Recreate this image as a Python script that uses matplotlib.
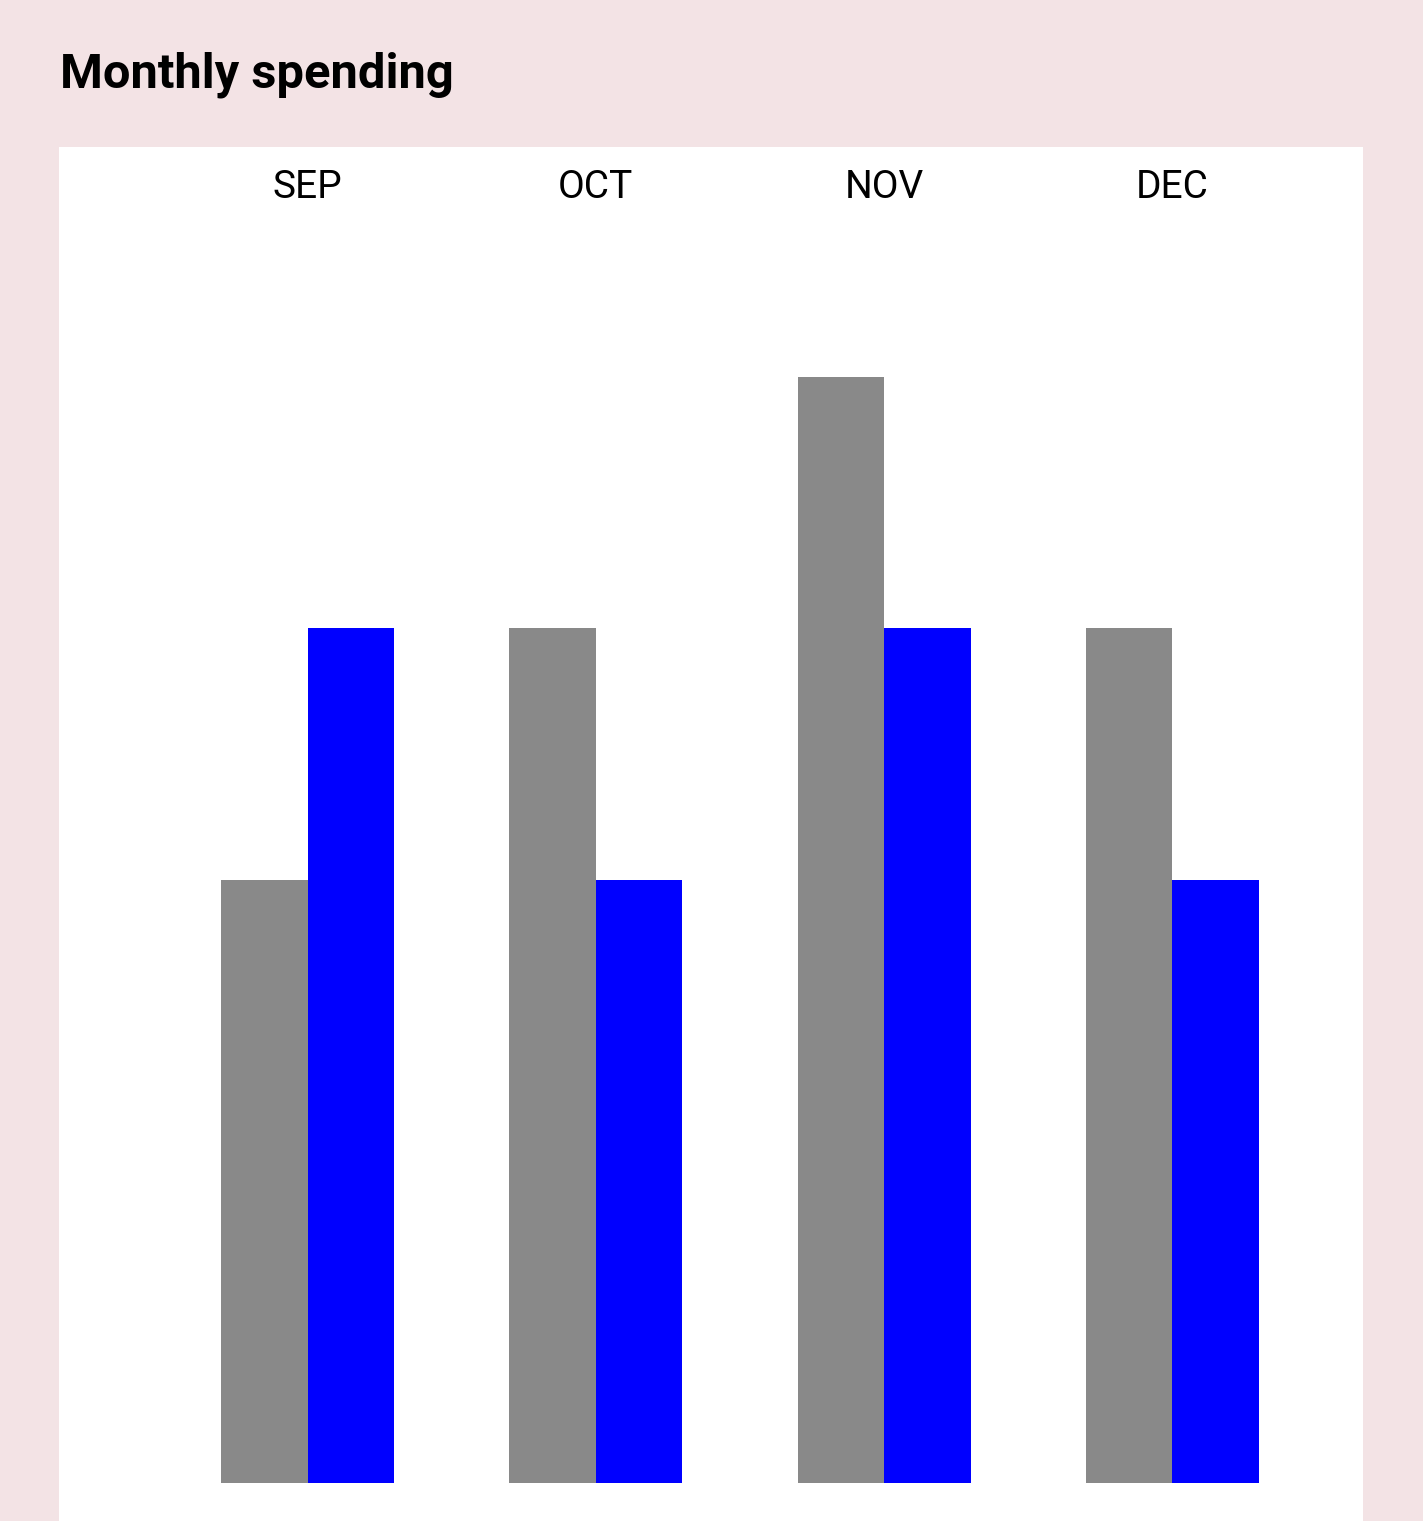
import numpy as np
import matplotlib
matplotlib.use('Agg')
import matplotlib.pyplot as plt

# data
months = ['SEP', 'OCT', 'NOV', 'DEC']
spend_a = [24, 34, 44, 34]   # gray series
spend_b = [34, 24, 34, 24]   # blue series

W, H = 1423, 1521
fig = plt.figure(figsize=(W / 100, H / 100), dpi=100)
fig.patch.set_facecolor('#f3e3e5')

# white panel / axes area in pixels
left, right, top, bottom = 59, 1363, 147, 1521
ax = fig.add_axes([left / W, 1 - bottom / H, (right - left) / W, (bottom - top) / H])
ax.set_facecolor('white')

x = np.arange(len(months))
bw = 0.3
ax.bar(x - bw / 2, spend_a, width=bw, color='#898989', linewidth=0)
ax.bar(x + bw / 2, spend_b, width=bw, color='#0000ff', linewidth=0)

# scale: group spacing ~288.3 px, first group centre at 307 px
step = 288.3
ax.set_xlim(-(307.5 - left) / step, (right - 307.5) / step)
k = 25.12  # px per unit
base = 1482.5
ax.set_ylim(-(bottom - base) / k, (base - top) / k)

for s in ax.spines.values():
    s.set_visible(False)
ax.set_xticks([])
ax.set_yticks([])

for i, m in enumerate(months):
    ax.text(i, 1 - (198 - top) / (bottom - top), m, transform=ax.get_xaxis_transform(),
            ha='center', va='baseline', fontsize=28, family='Roboto', color='black')

fig.text(60 / W, 1 - 88 / H, 'Monthly spending', ha='left', va='baseline',
         fontsize=35.2, fontweight='bold', family='Roboto', color='black')

fig.savefig('out.png', dpi=100, facecolor=fig.get_facecolor())
